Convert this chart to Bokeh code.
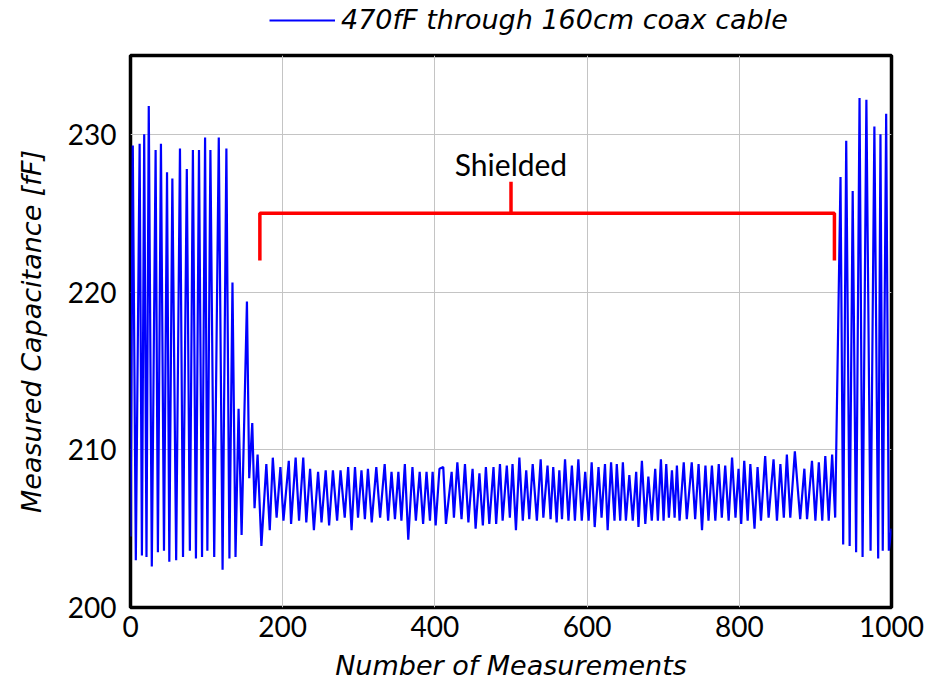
from bokeh.plotting import figure
from bokeh.layouts import column
from bokeh.models import Range1d, Legend, LegendItem, FixedTicker
from bokeh.core.properties import value
from bokeh.embed import file_html
from bokeh.resources import INLINE

# Turning points of the measured series (measurement index, capacitance in fF)
meas_x = [0, 3, 7, 12, 15, 18, 21, 24, 28, 33, 36, 40, 44, 48, 51, 55, 60, 65, 69, 74,
          78, 82, 86, 90, 94, 98, 101, 105, 110, 116, 121, 126, 130, 134, 138, 142, 146, 153, 156, 160,
          163, 167, 172, 178.5, 183, 187, 192, 197, 201, 208, 211, 217, 221.5, 227, 231, 236, 241, 246.5, 251, 256.5,
          261, 266, 271.5, 276, 281.5, 286, 290.5, 295, 299, 303.5, 308, 312, 317, 323, 328, 334, 338.5, 343, 347.5, 352,
          356, 360.5, 365, 370.5, 375, 380, 384.5, 389, 393.5, 397, 401, 406, 411, 414.5, 422, 425, 429.5, 435, 439.5, 444,
          449.5, 453.5, 458.5, 463, 467, 471.5, 477, 480.5, 485.5, 489, 494.5, 498.5, 502, 506.5, 511, 515.5, 520, 524, 528.5, 534,
          539, 542.5, 548, 552, 555.5, 560, 563.5, 567, 571, 575.5, 580, 584, 588.5, 593, 597.5, 602, 606, 610, 615, 619,
          623.5, 627, 631.5, 636, 639, 643.5, 647, 651, 655.5, 660, 664.5, 667.5, 672, 676.5, 680.5, 685, 689.5, 693, 697, 700.5,
          704, 707.5, 711.5, 715, 718, 721.5, 727, 731, 737.5, 742, 746.5, 751, 755.5, 759.5, 764, 768.5, 773, 777, 781.5, 786,
          790.5, 795, 799, 802.5, 806.5, 811, 814.5, 820, 824, 828.5, 834, 838.5, 845, 849.5, 854, 858.5, 862.5, 867, 873, 880,
          885.5, 889, 895.5, 900, 904.5, 909, 913, 917.5, 922, 926, 933, 936.5, 940.5, 945, 949, 953.5, 958, 962, 967, 972.5,
          977.5, 982.5, 985.5, 988.5, 993, 996.5, 1000]
meas_y = [204.5, 229.3, 203.0, 229.4, 203.3, 230.0, 203.2, 231.8, 202.6, 229.0, 203.5, 229.4, 203.6, 227.6, 202.9, 227.2, 203.0, 229.1, 203.2, 227.8,
          203.6, 229.0, 203.1, 229.0, 203.2, 229.8, 203.6, 229.0, 203.2, 229.8, 202.4, 229.1, 203.1, 220.6, 203.2, 212.6, 204.6, 219.4, 208.2, 211.7,
          206.3, 209.7, 203.9, 209.1, 204.9, 209.5, 205.7, 208.9, 205.5, 209.3, 205.3, 209.5, 205.5, 209.5, 205.4, 208.8, 204.9, 208.6, 205.4, 208.7,
          205.2, 208.7, 205.5, 208.7, 205.7, 208.9, 204.9, 208.9, 205.7, 208.7, 205.6, 208.8, 205.4, 208.9, 205.7, 209.1, 205.5, 208.6, 205.6, 208.6,
          205.5, 209.1, 204.3, 208.9, 205.5, 208.6, 205.3, 208.6, 205.5, 208.6, 205.2, 208.8, 208.9, 205.3, 208.6, 205.7, 209.2, 205.6, 209.1, 205.4,
          208.8, 205.0, 208.5, 205.2, 208.9, 205.3, 208.9, 205.3, 209.1, 205.5, 209.0, 205.7, 209.1, 204.9, 209.5, 205.5, 208.7, 205.6, 209.1, 205.5,
          209.4, 205.7, 209.0, 205.6, 208.9, 205.4, 208.7, 205.6, 209.4, 205.5, 209.0, 205.5, 209.4, 205.5, 208.6, 205.5, 209.2, 205.1, 208.9, 205.7,
          209.1, 204.9, 209.2, 205.5, 209.1, 205.5, 209.2, 205.5, 208.4, 205.5, 208.6, 205.1, 209.3, 205.3, 208.3, 205.5, 208.8, 205.5, 209.4, 205.5,
          209.1, 205.7, 208.7, 205.7, 209.0, 205.5, 209.2, 205.6, 209.2, 205.6, 209.1, 204.9, 209.0, 205.5, 209.0, 205.5, 209.1, 205.7, 209.0, 205.5,
          209.5, 205.7, 208.8, 205.3, 209.3, 205.5, 209.1, 205.0, 208.9, 205.5, 209.6, 205.7, 209.4, 205.5, 209.1, 205.7, 209.7, 205.7, 209.9, 205.6,
          208.8, 205.6, 209.3, 205.5, 209.2, 205.5, 209.6, 205.5, 209.7, 205.7, 227.3, 204.0, 229.6, 203.9, 226.4, 203.5, 232.3, 203.2, 232.2, 203.6,
          230.5, 203.1, 230.0, 203.6, 231.3, 203.6, 205.0]

x_ticks = [0, 200, 400, 600, 800, 1000]
y_ticks = [200, 210, 220, 230]

# "Shielded" bracket annotation (data coordinates)
bracket_x = [170, 170, 925, 925]
bracket_y = [222, 225, 225, 222]
bracket_mid_x = [500, 500]
bracket_mid_y = [225, 227]
shield_label = ["Shielded"]
shield_label_x = [500]
shield_label_y = [228.1]

series_label = "470fF through 160cm coax cable"
SERIES_COLOR = "#0000ff"

# ---- header strip holding the legend (its frame is aligned with the main frame) ----
head = figure(width=926, height=52, output_backend="svg", toolbar_location=None,
              x_range=Range1d(0, 1), y_range=Range1d(0, 1), min_border=0)
head.axis.visible = False
head.grid.visible = False
head.outline_line_color = None
head.background_fill_color = "white"
head.border_fill_color = "white"
# proxy renderer for the legend sample; its points lie outside the header's range
proxy = head.line([5, 6], [5, 6], line_color=SERIES_COLOR, line_width=2.2)
legend = Legend(items=[LegendItem(label=series_label, renderers=[proxy])],
                location=(139, 17), orientation="horizontal",
                label_text_font="DejaVu Sans", label_text_font_size="27px",
                label_text_font_style="italic", label_text_color="black",
                glyph_width=66, glyph_height=20, label_standoff=6,
                padding=0, margin=0, border_line_color=None,
                background_fill_alpha=0)
head.add_layout(legend)

# ---- main plot ----
p = figure(frame_width=761, frame_height=552, output_backend="svg", toolbar_location=None,
           x_range=Range1d(0, 1000), y_range=Range1d(200, 235),
           min_border_left=130, min_border_right=35, min_border_bottom=84, min_border_top=3)

p.line(meas_x, meas_y, line_color=SERIES_COLOR, line_width=2.2)

p.line(bracket_x, bracket_y, line_color="#ff0000", line_width=3.5)
p.line(bracket_mid_x, bracket_mid_y, line_color="#ff0000", line_width=3.5)
p.text(x=shield_label_x, y=shield_label_y, text=shield_label, text_font=value("Lato"),
       text_font_size="30px", text_align="center", text_baseline="middle", text_color="black")

p.outline_line_color = "black"
p.outline_line_width = 3.5
p.background_fill_color = "white"
p.border_fill_color = "white"

for ax in (p.xaxis[0], p.yaxis[0]):
    ax.axis_line_color = None
    ax.major_tick_out = 0
    ax.major_tick_in = 0
    ax.minor_tick_out = 0
    ax.minor_tick_in = 0
    ax.major_label_text_font = "Lato"
    ax.major_label_text_font_size = "28px"
    ax.major_label_text_color = "black"
    ax.axis_label_text_font = "DejaVu Sans"
    ax.axis_label_text_font_size = "27px"
    ax.axis_label_text_font_style = "italic"
    ax.axis_label_text_color = "black"

p.xaxis[0].ticker = FixedTicker(ticks=x_ticks)
p.yaxis[0].ticker = FixedTicker(ticks=y_ticks)
p.xaxis[0].axis_label = "Number of Measurements"
p.yaxis[0].axis_label = "Measured Capacitance [fF]"
p.xaxis[0].major_label_standoff = 8
p.yaxis[0].major_label_standoff = 14
p.xaxis[0].axis_label_standoff = 10
p.yaxis[0].axis_label_standoff = 18

p.xgrid[0].grid_line_color = "#c4c4c4"
p.ygrid[0].grid_line_color = "#c4c4c4"
p.xgrid[0].grid_line_width = 1
p.ygrid[0].grid_line_width = 1

layout = column(head, p, spacing=0)
open("out.html", "w").write(file_html(layout, INLINE))
